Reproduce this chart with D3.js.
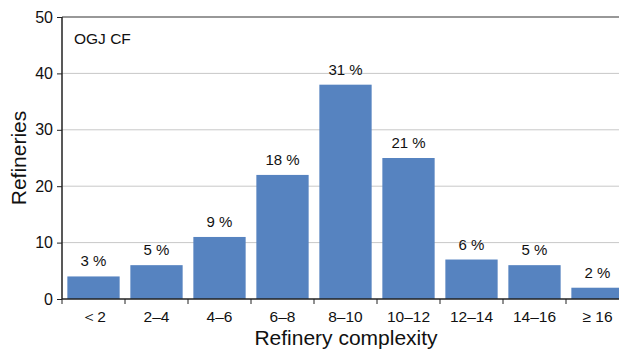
<!DOCTYPE html>
<html><head><meta charset="utf-8">
<script src="https://cdn.jsdelivr.net/npm/d3@7"></script>
<style>body{margin:0;background:#fff;}svg{display:block;font-family:"Liberation Sans",Arial,sans-serif;}</style>
</head><body><svg id="c" width="619" height="351"></svg>
<script>
const categories = ["\uFF1C2","2\u20134","4\u20136","6\u20138","8\u201310","10\u201312","12\u201314","14\u201316","\u2265 16"];
const refineries = [4, 6, 11, 22, 38, 25, 7, 6, 2];
const shares = ["3 %","5 %","9 %","18 %","31 %","21 %","6 %","5 %","2 %"];
const yTicks = [0, 10, 20, 30, 40, 50];

const svg = d3.select("#c");
const L = 62, R = 629, T = 17, B = 299;
const x = d3.scaleBand().domain(categories).range([L, R]).paddingInner(0.17).paddingOuter(0.085);
const y = d3.scaleLinear().domain([0, 50]).range([B, T]);

// gridlines
svg.append("g").selectAll("line").data(yTicks.filter(d => d > 0 && d < 50)).join("line")
  .attr("x1", L).attr("x2", R).attr("y1", d => y(d)).attr("y2", d => y(d))
  .attr("stroke", "#c8c8c8").attr("stroke-width", 1);
// top border
svg.append("line").attr("x1", L).attr("x2", R).attr("y1", y(50)).attr("y2", y(50)).attr("stroke", "#333").attr("stroke-width", 1.2);

// bars
svg.append("g").selectAll("rect").data(categories).join("rect")
  .attr("x", d => x(d)).attr("width", x.bandwidth())
  .attr("y", (d, i) => y(refineries[i])).attr("height", (d, i) => B - y(refineries[i]))
  .attr("fill", "#5683c0");

// value labels
svg.append("g").selectAll("text").data(categories).join("text")
  .attr("x", d => x(d) + x.bandwidth() / 2)
  .attr("y", (d, i) => y(refineries[i]) - 10)
  .attr("text-anchor", "middle").attr("font-size", 15).attr("fill", "#111")
  .text((d, i) => shares[i]);

// y axis
const ya = svg.append("g").attr("transform", `translate(${L},0)`)
  .call(d3.axisLeft(y).tickValues(yTicks).tickSize(5).tickPadding(4));
ya.selectAll("text").attr("font-size", 16).attr("fill", "#111").style("font-family", "Liberation Sans, Arial, sans-serif");
ya.selectAll("line").attr("stroke", "#222");
ya.select(".domain").attr("stroke", "#222").attr("stroke-width", 1.5).attr("d", `M0,${B}V${T}`);

// x axis
const xa = svg.append("g").attr("transform", `translate(0,${B})`);
xa.append("line").attr("x1", L).attr("x2", R).attr("stroke", "#222").attr("stroke-width", 1.5);
xa.selectAll("line.t").data(categories).join("line").attr("class", "t")
  .attr("x1", d => x(d) - x.step() * x.paddingInner() / 2)
  .attr("x2", d => x(d) - x.step() * x.paddingInner() / 2)
  .attr("y1", 0).attr("y2", 5).attr("stroke", "#222");
xa.selectAll("text").data(categories).join("text")
  .attr("x", d => x(d) + x.bandwidth() / 2).attr("y", 23)
  .attr("text-anchor", "middle").attr("font-size", 15.5).attr("fill", "#111")
  .text(d => d);

// axis titles
svg.append("text").attr("transform", "translate(26,158) rotate(-90)")
  .attr("text-anchor", "middle").attr("font-size", 21).attr("fill", "#111").text("Refineries");
svg.append("text").attr("x", 346).attr("y", 345)
  .attr("text-anchor", "middle").attr("font-size", 21).attr("fill", "#111").text("Refinery complexity");

svg.append("text").attr("x", 74).attr("y", 44).attr("font-size", 15.5).attr("fill", "#111").text("OGJ CF");
</script></body></html>
